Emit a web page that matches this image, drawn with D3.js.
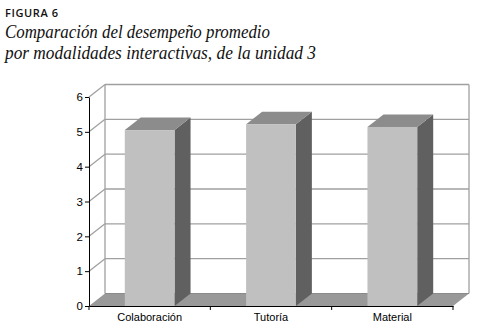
<!DOCTYPE html>
<html><head><meta charset="utf-8">
<script src="https://cdn.jsdelivr.net/npm/d3@7"></script>
<style>body{margin:0;background:#fff}svg{display:block}
.ttl{font-family:"Liberation Serif","Times New Roman","DejaVu Serif",serif;font-style:italic}
</style>
</head><body>
<script>
const categories = ["Colaboración", "Tutoría", "Material"];
const values = [5.05, 5.22, 5.14];
const yTicks = [0, 1, 2, 3, 4, 5, 6];
const figLabel = "FIGURA 6";
const titleLines = ["Comparación del desempeño promedio", "por modalidades interactivas, de la unidad 3"];

const W = 478, H = 330;
const svg = d3.select("body").append("svg").attr("width", W).attr("height", H);

const x = d3.scaleBand().domain(categories).range([89, 453]).paddingInner(0.59).paddingOuter(0.295);
const y = d3.scaleLinear().domain([0, 6]).range([306, 97]);
const dx = 16, dy = -12.5;

// Title
svg.append("text").attr("x", 5).attr("y", 16.7).text(figLabel)
  .attr("font-family", "'Open Sans', sans-serif").attr("font-weight", 600)
  .attr("font-size", 11).attr("letter-spacing", 0.6).attr("fill", "#111");
const tl = [37.5, 58.5];
titleLines.forEach((t, i) => {
  svg.append("text").attr("class", "ttl").attr("x", 5).attr("y", tl[i]).text(t)
    .attr("font-size", 18).attr("fill", "#111")
    .attr("textLength", i === 0 ? 265 : 311).attr("lengthAdjust", "spacingAndGlyphs");
});

const wallCol = "#a0a0a0";
const x0 = x.range()[0], x1 = x.range()[1];
// Floor
svg.append("polygon")
  .attr("points", [[x0, y(0)], [x1, y(0)], [x1 + dx, y(0) + dy], [x0 + dx, y(0) + dy]].map(p => p.join(",")).join(" "))
  .attr("fill", "#999999");
// Gridlines: diagonal on left wall + horizontal on back wall
const g = svg.append("g");
yTicks.forEach(v => {
  if (v === 0) return;
  g.append("line").attr("x1", x0).attr("y1", y(v)).attr("x2", x0 + dx).attr("y2", y(v) + dy)
    .attr("stroke", wallCol).attr("stroke-width", 1.3);
  g.append("line").attr("x1", x0 + dx).attr("y1", y(v) + dy).attr("x2", x1 + dx).attr("y2", y(v) + dy)
    .attr("stroke", wallCol).attr("stroke-width", 1.3);
});
g.append("line").attr("x1", x0 + dx).attr("y1", y(6) + dy).attr("x2", x0 + dx).attr("y2", y(0) + dy)
  .attr("stroke", wallCol).attr("stroke-width", 1.3);
g.append("line").attr("x1", x1 + dx).attr("y1", y(6) + dy).attr("x2", x1 + dx).attr("y2", y(0) + dy)
  .attr("stroke", wallCol).attr("stroke-width", 1.3);
g.append("line").attr("x1", x0 + dx).attr("y1", y(0) + dy).attr("x2", x1 + dx).attr("y2", y(0) + dy)
  .attr("stroke", "#8a8a8a").attr("stroke-width", 1);

// Bars
const bars = svg.append("g").selectAll("g").data(categories).join("g");
bars.each(function (c, i) {
  const gb = d3.select(this);
  const bx = x(c), bw = x.bandwidth(), top = y(values[i]), bot = y(0);
  gb.append("polygon").attr("points", [[bx + bw, top], [bx + bw + dx, top + dy], [bx + bw + dx, bot + dy], [bx + bw, bot]].map(p => p.join(",")).join(" "))
    .attr("fill", "#606060");
  gb.append("polygon").attr("points", [[bx, top], [bx + dx, top + dy], [bx + bw + dx, top + dy], [bx + bw, top]].map(p => p.join(",")).join(" "))
    .attr("fill", "#8c8c8c");
  gb.append("rect").attr("x", bx).attr("y", top).attr("width", bw).attr("height", bot - top).attr("fill", "#c0c0c0");
});

// Y axis
const yAxis = svg.append("g").attr("transform", `translate(${x0},0)`)
  .call(d3.axisLeft(y).tickValues(yTicks).tickFormat(d3.format("d")).tickSize(4).tickPadding(2).tickSizeOuter(0));
yAxis.selectAll("text").attr("font-family", "'Liberation Sans', Arial, sans-serif").attr("font-size", 11.5).attr("fill", "#000");
yAxis.select(".domain").attr("stroke", "#000");

// X axis
const xAxis = svg.append("g").attr("transform", `translate(0,${y(0)})`)
  .call(d3.axisBottom(x).tickSize(0).tickPadding(7).tickSizeOuter(0));
xAxis.selectAll("text").attr("font-family", "'Liberation Sans', Arial, sans-serif").attr("font-size", 11).attr("fill", "#000");
xAxis.select(".domain").attr("stroke", "#000");
const edges = categories.map(c => x(c) - x.step() * x.paddingInner() / 2).concat([x1]);
xAxis.selectAll("line.edge").data(edges).join("line").attr("class", "edge")
  .attr("x1", d => d).attr("x2", d => d).attr("y1", 0).attr("y2", 4).attr("stroke", "#000");
</script>
</body></html>
